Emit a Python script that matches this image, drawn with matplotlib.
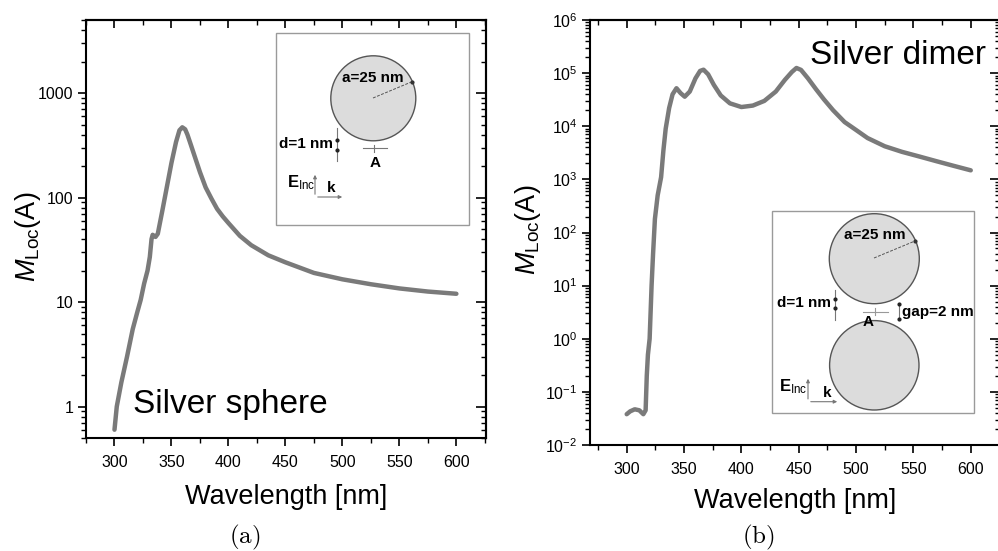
import numpy as np
import matplotlib
matplotlib.use("Agg")
import matplotlib.pyplot as plt
from matplotlib.ticker import LogLocator, FuncFormatter, MultipleLocator, NullFormatter, LogFormatterSciNotation
from matplotlib.patches import Circle, Rectangle, FancyArrowPatch

plt.rcParams['font.family'] = ['Liberation Sans', 'DejaVu Sans']
plt.rcParams['mathtext.fontset'] = 'custom'
plt.rcParams['mathtext.rm'] = 'Liberation Sans'
plt.rcParams['mathtext.it'] = 'Liberation Sans:italic'
plt.rcParams['mathtext.bf'] = 'Liberation Sans:bold'

# ---------------- data ----------------
wl_sphere = [300, 302, 306, 311, 316, 320, 323, 326, 329, 331, 332.5, 333.5, 336, 338,
             342, 346, 350, 354, 357, 359.5, 362, 364, 367, 370, 375, 380, 385, 390, 395,
             400, 410, 420, 435, 450, 475, 500, 525, 550, 575, 600]
m_sphere = [0.6, 1.0, 1.7, 3.0, 5.5, 8.0, 10.5, 15, 20, 27, 40, 44, 42, 45,
            75, 127, 215, 340, 440, 470, 450, 400, 320, 255, 175, 125, 98, 78, 66,
            57, 43, 35, 28, 24, 19, 16.5, 14.8, 13.5, 12.6, 12.0]

wl_dimer = [300, 303, 307, 311, 314.5, 316.5, 317.5, 318.5, 320, 321.7, 323, 324.6, 327,
            330, 332, 334, 337, 340, 343.4, 347, 350.6, 355, 360, 364, 367, 371,
            376, 382, 390, 400, 410, 420, 430, 438, 444, 448, 452, 458, 465, 472, 480,
            490, 500, 510, 525, 540, 555, 570, 585, 600]
m_dimer = [0.038, 0.043, 0.047, 0.045, 0.038, 0.045, 0.2, 0.5, 1.0, 10, 40, 180, 500,
           1100, 3500, 9000, 22000, 40000, 52000, 42000, 36000, 45000, 80000, 110000,
           116000, 95000, 60000, 38000, 27000, 23000, 24500, 30000, 45000, 75000, 105000,
           125000, 115000, 80000, 50000, 32000, 20000, 12000, 8500, 6000, 4200, 3300,
           2700, 2200, 1800, 1480]

sphere_yticks = [1, 10, 100, 1000]
x_major = [300, 350, 400, 450, 500, 550, 600]

# ---------------- figure ----------------
W, H = 998, 551
fig = plt.figure(figsize=(W / 100, H / 100), dpi=100)

line_color = '#7a7a7a'
tick_fs = 11.5
label_fs = 19.5


def px_axes(l, t, r, b):
    return fig.add_axes([l / W, 1 - b / H, (r - l) / W, (b - t) / H])


def style_axes(ax, yminor_subs):
    for s in ax.spines.values():
        s.set_linewidth(1.5)
    ax.tick_params(axis='both', which='major', direction='out', length=6, width=1.2,
                   labelsize=tick_fs, pad=3, top=False, right=False)
    ax.tick_params(axis='x', which='major', pad=6)
    ax.tick_params(axis='both', which='minor', direction='out', length=3.5, width=1.0,
                   top=False, right=False)
    ax.xaxis.set_major_locator(MultipleLocator(50))
    ax.xaxis.set_minor_locator(MultipleLocator(25))
    sx = ax.secondary_xaxis('top')
    sx.xaxis.set_major_locator(MultipleLocator(50))
    sx.xaxis.set_minor_locator(MultipleLocator(25))
    sx.tick_params(which='major', direction='in', length=6, width=1.2, labeltop=False)
    sx.tick_params(which='minor', direction='in', length=3.5, width=1.0)
    sx.spines['top'].set_linewidth(1.5)
    sy = ax.secondary_yaxis('right')
    sy.yaxis.set_major_locator(LogLocator(base=10, numticks=20))
    sy.yaxis.set_minor_locator(LogLocator(base=10, subs=yminor_subs, numticks=100))
    sy.yaxis.set_minor_formatter(NullFormatter())
    sy.tick_params(which='major', direction='in', length=7, width=1.2, labelright=False)
    sy.tick_params(which='minor', direction='in', length=3.5, width=1.0)
    sy.spines['right'].set_linewidth(1.5)


# ---- panel (a) ----
ax1 = px_axes(86, 20, 486, 438)
ax1.plot(wl_sphere, m_sphere, color=line_color, lw=3.2, solid_capstyle='round',
         solid_joinstyle='round')
ax1.set_yscale('log')
ax1.set_xlim(275, 626)
ax1.set_ylim(0.5, 5000)
ax1.set_yticks(sphere_yticks)
ax1.yaxis.set_minor_locator(LogLocator(base=10, subs=np.arange(2, 10), numticks=100))
ax1.yaxis.set_major_formatter(FuncFormatter(lambda v, p: f'{v:g}'))
ax1.yaxis.set_minor_formatter(NullFormatter())
style_axes(ax1, np.arange(2, 10))
ax1.set_xticks(x_major)
ax1.set_xlabel('Wavelength [nm]', fontsize=label_fs, labelpad=10)
ax1.set_ylabel(r'$M_{\mathrm{Loc}}$(A)', fontsize=label_fs)
ax1.yaxis.set_label_coords(-0.108, 0.481)

# ---- panel (b) ----
ax2 = px_axes(590, 20, 1000, 445)
ax2.plot(wl_dimer, m_dimer, color=line_color, lw=3.2, solid_capstyle='round',
         solid_joinstyle='round')
ax2.set_yscale('log')
ax2.set_xlim(268, 625.5)
ax2.set_ylim(1e-2, 1e6)
ax2.yaxis.set_major_locator(LogLocator(base=10, numticks=20))
ax2.yaxis.set_minor_locator(LogLocator(base=10, subs=np.arange(2, 10), numticks=100))
ax2.yaxis.set_major_formatter(LogFormatterSciNotation())
ax2.yaxis.set_minor_formatter(NullFormatter())
style_axes(ax2, np.arange(2, 10))
ax2.set_xticks(x_major)
ax2.set_xlabel('Wavelength [nm]', fontsize=label_fs, labelpad=8)
ax2.set_ylabel(r'$M_{\mathrm{Loc}}$(A)', fontsize=label_fs)
ax2.yaxis.set_label_coords(-0.115, 0.506)

# ---------------- overlay (pixel coords) for insets & captions ----------------
ov = fig.add_axes([0, 0, 1, 1], zorder=10)
ov.set_xlim(0, W)
ov.set_ylim(H, 0)
ov.axis('off')
ov.patch.set_alpha(0)

ov.text(133, 413, 'Silver sphere', fontsize=24, ha='left', va='baseline')
ov.text(810, 64, 'Silver dimer', fontsize=24, ha='left', va='baseline')

ov.text(245, 537, r'$\mathrm{(a)}$', math_fontfamily='cm', fontsize=18, ha='center', va='center')
ov.text(758, 537, r'$\mathrm{(b)}$', math_fontfamily='cm', fontsize=18, ha='center', va='center')

inset_fs = 11
circ_fill = '#dcdcdc'
circ_edge = '#555555'
box_edge = '#9a9a9a'


def arrow(x0, y0, x1, y1, color='#777777', lw=0.8, ms=5):
    ov.add_patch(FancyArrowPatch((x0, y0), (x1, y1), arrowstyle='-|>', mutation_scale=ms,
                                 color=color, lw=lw))


# inset (a)
ov.add_patch(Rectangle((276, 33.3), 193, 191.7, fill=True, facecolor='white',
                       edgecolor=box_edge, lw=1.0))
ov.add_patch(Circle((373.3, 98.3), 42.5, facecolor=circ_fill, edgecolor=circ_edge, lw=1.0))
ov.plot([373, 412.5], [98, 81.5], color='#555555', lw=0.7, ls=(0, (3, 1.5)))
ov.plot([412.5], [81.5], marker='o', ms=2, color='#333333')
ov.text(373, 78, 'a=25 nm', fontsize=inset_fs, fontweight='bold', ha='center', va='center')
ov.text(279, 144, 'd=1 nm', fontsize=inset_fs, fontweight='bold', ha='left', va='center')
ov.plot([337, 337], [128, 161], color='#777777', lw=0.8)
ov.plot([337, 337], [140, 150], ls='none', marker='o', ms=2, color='#222222')
ov.plot([363, 387], [148.3, 148.3], color='#777777', lw=0.8)
ov.plot([374, 374], [145, 152], color='#777777', lw=0.8)
ov.text(375, 163, 'A', fontsize=inset_fs, fontweight='bold', ha='center', va='center')
ov.text(287, 183, r'$\mathbf{E}_{\mathrm{Inc}}$', fontsize=12, ha='left', va='center')
arrow(315, 197, 315, 172)
arrow(315, 197, 345, 197)
ov.text(331.5, 188, 'k', fontsize=inset_fs, fontweight='bold', ha='center', va='center')

# inset (b)
ov.add_patch(Rectangle((771.7, 211), 202.3, 202.3, fill=True, facecolor='white',
                       edgecolor=box_edge, lw=1.0))
ov.add_patch(Circle((874.3, 258.7), 45, facecolor=circ_fill, edgecolor=circ_edge, lw=1.0))
ov.add_patch(Circle((874.3, 365.3), 44.7, facecolor=circ_fill, edgecolor=circ_edge, lw=1.0))
ov.plot([874, 915], [258, 241], color='#555555', lw=0.7, ls=(0, (3, 1.5)))
ov.plot([915], [241], marker='o', ms=2, color='#333333')
ov.text(875, 235, 'a=25 nm', fontsize=inset_fs, fontweight='bold', ha='center', va='center')
ov.text(777, 303, 'd=1 nm', fontsize=inset_fs, fontweight='bold', ha='left', va='center')
ov.plot([835, 835], [290, 320], color='#777777', lw=0.8)
ov.plot([835, 835], [299, 308], ls='none', marker='o', ms=2, color='#222222')
ov.plot([863, 888], [311.7, 311.7], color='#999999', lw=0.8)
ov.plot([875, 875], [308, 315], color='#999999', lw=0.8)
ov.text(868.3, 322, 'A', fontsize=inset_fs, fontweight='bold', ha='center', va='center')
ov.plot([899, 899], [303, 320], color='#777777', lw=0.8)
ov.plot([899, 899], [304, 319], ls='none', marker='o', ms=2, color='#222222')
ov.text(902, 311.7, 'gap=2 nm', fontsize=inset_fs, fontweight='bold', ha='left', va='center')
ov.text(779, 386.7, r'$\mathbf{E}_{\mathrm{Inc}}$', fontsize=12, ha='left', va='center')
arrow(808, 401.7, 808, 376)
arrow(808, 401.7, 840, 401.7)
ov.text(826.7, 393, 'k', fontsize=inset_fs, fontweight='bold', ha='center', va='center')

fig.savefig('out.png', dpi=100)
